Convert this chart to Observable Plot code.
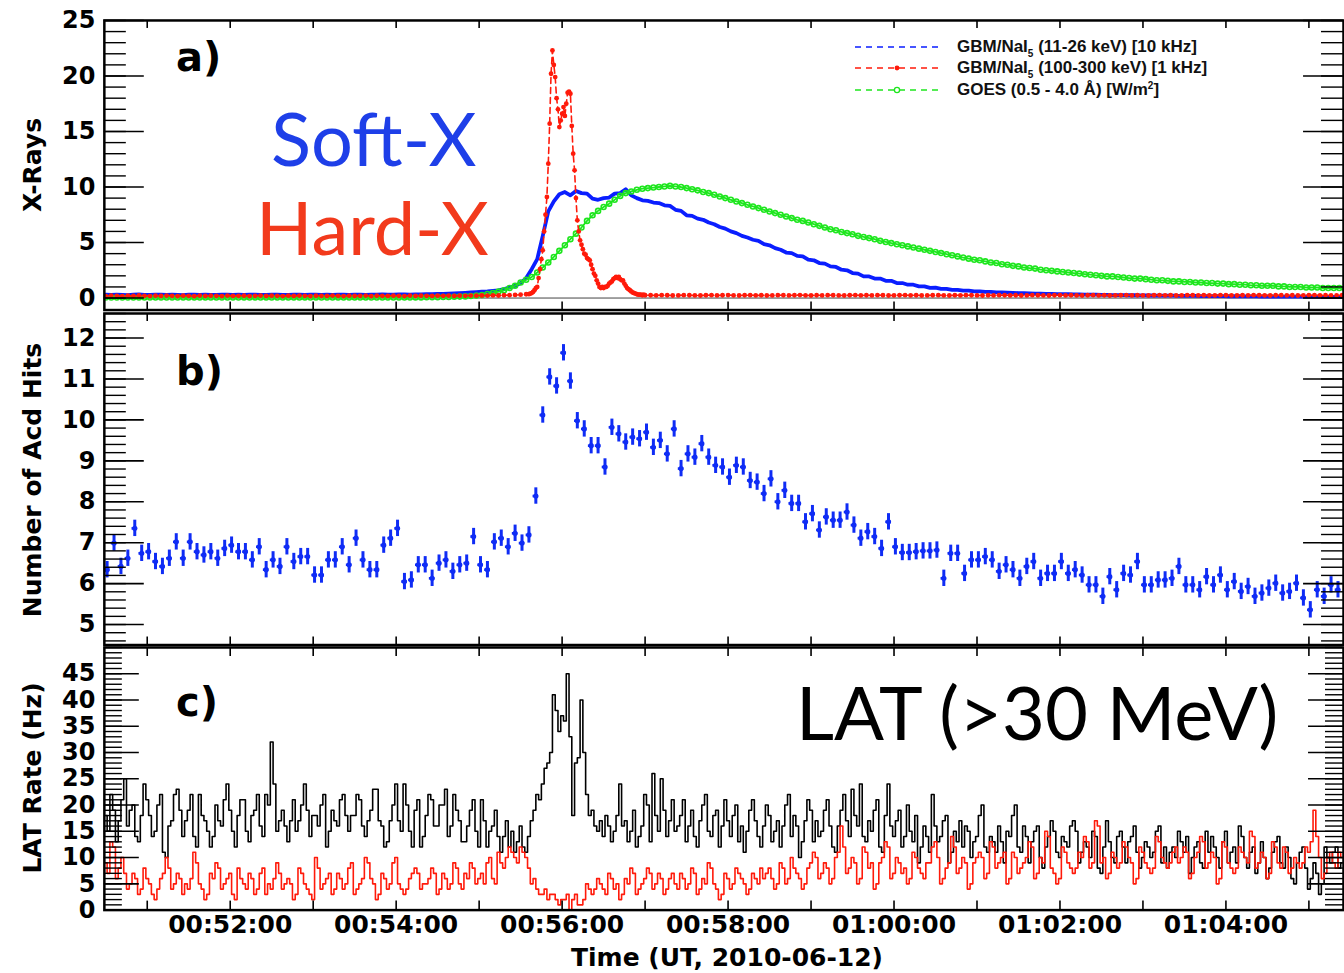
<!DOCTYPE html>
<html>
<head>
<meta charset="utf-8">
<script src="https://cdn.jsdelivr.net/npm/d3@7"></script>
<script src="https://cdn.jsdelivr.net/npm/@observablehq/plot@0.6"></script>
<style>
  html, body { margin: 0; padding: 0; background: #fff; overflow: hidden; }
  #chart { position: relative; width: 1344px; height: 973px; overflow: hidden; background: #fff; }
  .panel { position: absolute; left: 0; }
  #overlay { position: absolute; left: 0; top: 0; pointer-events: none; }
</style>
</head>
<body>
<div id="chart"></div>
<script>
// Time is counted in seconds after 00:50:00 UT, 2010-06-12.

// GBM NaI5 11-26 keV rate, one sample every 4 s starting at 30 s
const softX = [
  0.30,0.28,0.31,0.29,0.27,0.30,0.32,0.29,0.28,0.30,
  0.31,0.29,0.30,0.28,0.27,0.30,0.31,0.29,0.30,0.28,
  0.29,0.31,0.30,0.28,0.30,0.29,0.31,0.30,0.28,0.29,
  0.30,0.31,0.29,0.28,0.30,0.31,0.29,0.30,0.31,0.29,
  0.30,0.28,0.31,0.30,0.29,0.31,0.30,0.29,0.31,0.30,
  0.32,0.30,0.31,0.33,0.32,0.31,
  0.32,0.33,0.35,0.34,0.37,0.38,0.40,0.42,0.45,0.47,0.50,0.53,0.57,0.60,0.65,0.70,
  0.80,0.95,1.10,1.35,1.80,2.60,3.50,5.60,7.80,8.70,
  9.35,9.55,9.25,9.65,9.45,9.40,8.95,8.85,9.00,9.05,
  9.40,9.45,9.80,9.25,9.00,8.80,8.75,8.60,8.55,8.35,
  8.30,7.95,7.85,7.45,7.40,7.15,7.05,6.80,6.65,6.40,
  6.25,6.00,5.85,5.60,5.45,5.25,5.15,4.85,4.75,4.50,
  4.35,4.10,4.05,3.80,3.75,3.45,3.40,3.15,3.10,2.85,
  2.80,2.55,2.50,2.25,2.20,1.95,1.95,1.75,1.75,1.55,
  1.55,1.35,1.35,1.20,1.20,1.05,1.05,0.92,0.93,0.82,
  0.82,0.74,0.74,0.66,0.67,0.60,0.60,0.55,0.55,0.51,
  0.50,0.48,
  0.46,0.45,0.43,0.42,0.40,0.39,0.38,0.37,0.36,0.35,
  0.34,0.33,0.32,0.31,0.30,0.30,0.29,0.28,0.27,0.27,
  0.26,0.25,0.25,0.24,0.24,0.23,0.22,0.22,0.21,0.21,
  0.20,0.20,0.19,0.19,0.18,0.18,0.18,0.17,0.17,0.16,
  0.16,0.16,0.15,0.15,0.15,0.14,0.14,0.14,0.13,0.13,
  0.13,0.13,0.12,0.12,0.12,0.12,0.11,0.11,0.11,0.11,
  0.10
];

// GOES 0.5-4.0 Å flux, one sample every 4 s starting at 30 s
const goes = [
  0.05,0.05,0.05,0.05,0.05,0.05,0.05,0.05,0.05,0.05,
  0.05,0.05,0.05,0.05,0.05,0.05,0.05,0.05,0.05,0.05,
  0.05,0.05,0.05,0.05,0.05,0.05,0.05,0.05,0.05,0.05,
  0.05,0.05,0.05,0.05,0.05,0.05,0.05,0.05,0.05,0.05,
  0.05,0.05,0.05,0.05,0.05,0.05,0.05,0.05,0.05,0.05,
  0.05,0.05,0.05,0.05,0.05,0.05,
  0.06,0.06,0.07,0.07,0.08,0.09,0.10,0.11,0.13,0.15,0.18,0.22,0.28,0.36,0.46,0.58,
  0.70,0.90,1.10,1.40,1.65,1.90,2.30,2.75,3.20,3.70,
  4.25,4.75,5.30,5.80,6.35,6.95,7.45,7.85,8.20,8.50,
  8.85,9.20,9.45,9.60,9.75,9.85,9.90,9.95,10.00,10.05,
  10.10,10.05,10.00,9.90,9.80,9.70,9.55,9.45,9.30,9.15,
  9.00,8.85,8.70,8.55,8.40,8.25,8.10,7.95,7.80,7.65,
  7.50,7.35,7.20,7.05,6.95,6.80,6.65,6.50,6.35,6.20,
  6.10,5.95,5.85,5.75,5.60,5.50,5.40,5.30,5.15,5.05,
  4.95,4.85,4.75,4.65,4.55,4.45,4.35,4.25,4.15,4.05,
  3.95,3.85,3.75,3.65,3.55,3.45,3.40,3.30,3.20,3.15,
  3.05,3.00,2.90,2.85,2.75,2.70,2.65,2.55,2.50,2.45,
  2.40,2.35,2.30,2.25,2.20,2.15,2.10,2.05,2.00,1.95,
  1.95,1.90,1.85,1.80,1.75,1.75,1.70,1.65,1.60,1.60,
  1.55,1.50,1.50,1.45,1.45,1.40,1.40,1.35,1.35,1.30,
  1.30,1.25,1.25,1.20,1.20,1.15,1.15,1.10,1.10,1.10,
  1.05,1.05,1.00,1.00,1.00,0.95,0.95,0.95,0.90,0.90,
  0.90,0.90,0.85
];

// GBM NaI5 100-300 keV rate: every 4 s before the burst (30-334 s),
// every 1 s through it (336-420 s), every 4 s after it (424-924 s)
const hardXPre = [
  0.18,0.22,0.20,0.17,0.21,0.19,0.23,0.20,0.18,0.21,
  0.19,0.22,0.20,0.18,0.21,0.20,0.17,0.22,0.19,0.21,
  0.20,0.18,0.22,0.19,0.20,0.21,0.18,0.20,0.22,0.19,
  0.21,0.20,0.18,0.21,0.19,0.22,0.20,0.18,0.21,0.20,
  0.19,0.22,0.20,0.18,0.21,0.19,0.20,0.22,0.18,0.21,
  0.20,0.19,0.21,0.20,0.18,0.22,0.19,0.21,0.20,0.19,
  0.21,0.20,0.22,0.19,0.21,0.20,0.22,0.21,0.23,0.22,
  0.24,0.23,0.25,0.26,0.28,0.30,0.34
];
const hardXPeak = [
  0.35,0.40,0.45,0.55,0.70,0.90,1.00,1.80,2.60,3.50,
  4.30,6.00,7.50,9.10,12.1,15.7,20.2,22.3,21.0,19.9,
  18.0,17.0,15.4,16.0,16.6,17.2,16.4,17.5,18.5,18.6,
  18.4,15.5,13.0,11.5,9.00,7.00,6.00,5.20,4.80,4.40,
  4.00,3.90,3.60,3.50,3.40,3.00,2.60,2.20,2.00,1.60,
  1.30,1.00,0.90,1.00,0.90,1.00,1.00,1.10,1.30,1.40,
  1.50,1.70,1.80,1.90,1.80,1.90,1.70,1.60,1.60,1.30,
  1.10,0.90,0.80,0.70,0.60,0.50,0.45,0.40,0.35,0.30,
  0.30,0.30,0.25,0.30,0.25
];
const hardXPost = [
  0.25,0.24,0.26,0.25,0.23,0.24,0.26,0.25,0.24,0.23,
  0.25,0.26,0.24,0.25,0.27,0.24,0.23,0.25,0.26,0.24,
  0.25,0.23,0.24,0.26,0.25,0.24,0.25,0.27,0.24,0.23,
  0.25,0.24,0.26,0.25,0.24,0.23,0.25,0.26,0.24,0.25,
  0.24,0.26,0.25,0.23,0.24,0.25,0.26,0.24,0.25,0.23,
  0.24,0.25,0.26,0.24,0.23,0.25,0.24,0.26,0.25,0.24,
  0.23,0.25,0.24,0.26,0.25,0.24,0.25,0.23,0.24,0.26,
  0.25,0.24,0.23,0.25,0.26,0.24,0.25,0.24,0.23,0.25,
  0.26,0.24,0.25,0.23,0.24,0.25,0.26,0.24,0.25,0.24,
  0.23,0.25,0.26,0.24,0.25,0.23,0.24,0.26,0.25,0.24,
  0.25,0.23,0.24,0.26,0.25,0.24,0.23,0.25,0.24,0.26,
  0.25,0.24,0.23,0.25,0.26,0.24,0.25,0.23,0.24,0.25,
  0.26,0.24,0.25,0.23,0.24,0.25
];

// ACD hit counts in 5-s bins centred from 31 s, with their uncertainty
const acdHits = [
  6.34,6.99,6.42,6.62,7.35,6.74,6.78,6.54,6.42,6.62,
  7.02,6.62,7.02,6.78,6.70,6.78,6.62,6.86,6.94,6.78,
  6.78,6.58,6.90,6.34,6.58,6.42,6.90,6.54,6.66,6.66,
  6.21,6.21,6.58,6.58,6.90,6.46,7.11,6.58,6.34,6.34,
  6.94,7.11,7.35,6.05,6.09,6.46,6.46,6.13,6.50,6.58,
  6.30,6.46,6.50,7.15,6.46,6.34,7.02,7.11,6.90,7.23,
  6.99,7.19,8.14,10.12,11.05,10.83,11.64,10.95,9.98,9.78,
  9.37,9.37,8.85,9.82,9.66,9.46,9.58,9.54,9.70,9.33,
  9.50,9.17,9.78,8.81,9.17,9.09,9.42,9.09,8.89,8.85,
  8.60,8.89,8.85,8.52,8.48,8.20,8.56,8.00,8.28,7.96,
  7.96,7.51,7.71,7.31,7.63,7.55,7.55,7.75,7.43,7.11,
  7.27,7.15,6.86,7.51,6.90,6.76,6.76,6.78,6.80,6.80,
  6.82,6.13,6.74,6.74,6.25,6.58,6.58,6.66,6.58,6.30,
  6.46,6.34,6.13,6.42,6.54,6.13,6.25,6.25,6.54,6.25,
  6.34,6.21,5.97,5.97,5.69,6.17,5.85,6.25,6.21,6.54,
  5.97,5.97,6.09,6.09,6.13,6.42,5.97,5.97,5.85,6.17,
  5.97,6.21,5.85,6.05,5.81,5.93,5.69,5.77,5.89,6.01,
  5.77,5.81,6.01,5.65,5.36,5.85,5.69,5.97,5.85
];
const acdError = 0.2;

// LAT rates (>30 MeV) in 2-s bins centred from 30 s, 32 s per row
const latRate = [
  18,15,22,19,13,17,21,25,16,19,20,14,13,18,24,21,
  18,14,15,20,22,11,10,16,17,22,23,19,14,17,19,22,
  14,12,22,18,17,15,12,14,20,17,16,21,24,19,15,12,
  18,21,21,15,13,18,19,22,16,14,22,20,32,24,15,17,
  19,16,13,17,21,15,17,20,24,19,14,18,18,16,20,22,
  12,15,19,17,16,21,22,18,15,18,18,22,21,16,14,17,
  19,23,23,17,16,12,13,17,20,24,17,15,24,20,15,12,
  19,21,12,14,18,22,21,16,16,20,20,23,14,16,22,19,
  17,13,13,16,19,21,15,12,21,17,12,15,16,19,14,11,
  14,17,12,15,11,13,16,12,11,14,17,19,22,21,24,27,
  28,30,41,38,34,37,36,45,33,18,28,29,40,30,22,18,
  19,16,15,17,14,18,16,13,15,18,24,16,17,13,15,19,
  12,14,16,22,20,13,26,18,15,25,19,14,17,21,15,16,
  18,21,13,16,19,14,12,17,20,22,15,14,18,19,12,16,
  21,17,14,18,20,13,16,11,15,19,21,17,14,12,16,20,
  18,13,15,17,12,16,20,22,14,18,16,10,13,17,21,19,
  13,17,14,15,19,21,16,12,11,16,19,22,17,14,23,18,
  16,24,14,13,17,15,19,21,12,11,18,24,16,14,17,19,
  12,14,20,15,13,18,9,12,16,14,11,22,16,13,14,17,
  18,9,11,15,13,17,12,16,15,10,13,14,18,20,12,11,
  14,13,11,16,13,9,15,14,18,20,12,11,16,14,9,13,
  15,16,10,8,12,14,17,15,11,10,14,13,12,16,17,15,
  9,11,13,12,10,15,14,8,7,12,17,13,10,9,14,15,
  12,9,13,14,16,11,8,10,13,12,10,11,15,16,9,12,
  8,11,12,10,15,13,11,14,7,10,12,13,9,8,15,11,
  14,12,10,8,13,15,9,11,12,9,16,14,10,8,11,12,
  7,9,13,10,6,8,11,13,14,9,8,12,10,6,5,9,
  11,12,8,4,6,9,7,3,5,12,10,9,11,12,8,9
];
const latRateAlt = [
  9,7,13,12,6,8,10,7,4,5,7,6,3,4,8,6,
  5,3,2,4,6,7,10,8,4,5,7,6,3,5,4,6,
  11,9,5,4,2,3,7,6,9,8,4,5,6,7,3,2,
  8,6,5,4,7,6,3,4,7,8,3,5,4,6,9,7,
  4,5,6,5,2,3,8,7,5,4,3,2,10,8,4,5,
  6,7,3,4,7,6,4,5,8,9,3,4,5,6,10,9,
  6,5,2,3,7,6,4,5,9,10,5,4,3,4,6,7,
  8,7,4,5,5,6,8,7,3,4,7,6,4,5,9,8,
  5,4,7,6,9,8,5,6,7,5,9,10,6,5,11,9,
  8,10,12,11,10,9,12,11,10,8,5,6,4,3,3,4,
  2,3,3,2,1,2,2,3,0,2,3,1,1,2,5,4,
  3,4,6,5,4,3,7,6,4,5,2,3,6,5,8,7,
  3,4,5,6,8,7,4,5,7,6,3,4,6,7,5,4,
  7,6,4,5,8,7,3,4,6,5,9,8,5,4,2,3,
  7,6,4,5,8,7,6,5,3,4,7,6,5,8,6,7,
  8,6,4,5,9,8,5,6,10,8,7,6,4,5,8,9,
  11,10,6,7,9,8,5,6,10,11,16,12,7,8,10,9,
  5,6,12,11,8,9,4,5,9,10,13,12,6,7,10,9,
  7,8,5,6,11,10,8,7,6,9,9,12,13,10,5,6,
  8,9,14,12,7,8,10,9,4,5,9,10,11,10,6,7,
  13,12,8,9,10,11,5,6,11,10,7,8,9,10,13,12,
  6,7,10,9,15,14,8,7,5,6,12,11,9,8,7,8,
  11,10,14,13,8,9,17,16,9,10,6,7,11,10,8,9,
  13,12,10,9,5,6,12,11,9,8,7,8,14,13,10,9,
  8,9,11,12,9,10,12,11,6,7,10,11,14,13,8,9,
  11,10,5,6,13,12,9,8,7,8,12,11,10,9,15,14,
  8,9,11,10,6,7,13,12,9,8,12,11,7,8,10,9,
  8,9,12,11,13,19,14,10,6,7,10,11,9,8,11,10
];

// Axis ticks and labels
const timeTicks = [120, 240, 360, 480, 600, 720, 840];
const timeLabels = ["00:52:00", "00:54:00", "00:56:00", "00:58:00", "01:00:00", "01:02:00", "01:04:00"];
const minuteTicks = [60, 120, 180, 240, 300, 360, 420, 480, 540, 600, 660, 720, 780, 840, 900];
const xrayTicks = [0, 5, 10, 15, 20, 25];
const acdTicks = [5, 6, 7, 8, 9, 10, 11, 12];
const latTicks = [0, 5, 10, 15, 20, 25, 30, 35, 40, 45];
const timeTitle = "Time (UT, 2010-06-12)";
const legendItems = [
  {name: "GBM/NaI", sub: "5", rest: " (11-26 keV) [10 kHz]"},
  {name: "GBM/NaI", sub: "5", rest: " (100-300 keV) [1 kHz]"},
  {name: "GOES (0.5 - 4.0 Å) [W/m", sup: "2", rest: "]"}
];

// ---- build rows ----
const softRows = softX.map((v, i) => ({t: 30 + 4 * i, v}));
const goesRows = goes.map((v, i) => ({t: 30 + 4 * i, v}));
const hardRows = [
  ...hardXPre.map((v, i) => ({t: 30 + 4 * i, v})),
  ...hardXPeak.map((v, i) => ({t: 336 + i, v})),
  ...hardXPost.map((v, i) => ({t: 424 + 4 * i, v}))
];
const acdRows = acdHits.map((v, i) => ({t: 31 + 5 * i, v}));
const latRows = latRate.map((v, i) => ({t: 30 + 2 * i, v}));
const latAltRows = latRateAlt.map((v, i) => ({t: 30 + 2 * i, v}));

// ---- layout ----
const W = 1346, ML = 104, MR = 1;
const frameW = W - ML - MR;
const xDomain = [29, 925];
const BLUE = "#0a1eff", GREEN = "#1ee61e", RED = "#ff1a0a", ACD_BLUE = "#0f2cf5";
const baseStyle = {fontFamily: "DejaVu Sans", fontWeight: "bold", background: "none", overflow: "visible", color: "black"};

const range = (a, b, s) => d3.range(a, b + s / 2, s);

function yTickMarks(major, minor, majorLen, minorLen) {
  return [
    Plot.tickY(minor, {y: d => d, insetRight: frameW - minorLen, stroke: "black", strokeWidth: 1.4}),
    Plot.tickY(minor, {y: d => d, insetLeft: frameW - minorLen, stroke: "black", strokeWidth: 1.4}),
    Plot.tickY(major, {y: d => d, insetRight: frameW - majorLen, stroke: "black", strokeWidth: 1.6}),
    Plot.tickY(major, {y: d => d, insetLeft: frameW - majorLen, stroke: "black", strokeWidth: 1.6})
  ];
}
function xTickMarks(frameH, len) {
  return [
    Plot.tickX(minuteTicks, {x: d => d, insetBottom: frameH - len, stroke: "black", strokeWidth: 1.6}),
    Plot.tickX(minuteTicks, {x: d => d, insetTop: frameH - len, stroke: "black", strokeWidth: 1.6})
  ];
}

const chart = document.getElementById("chart");
function place(svg, top) {
  const div = document.createElement("div");
  div.className = "panel";
  div.style.top = top + "px";
  div.appendChild(svg);
  chart.appendChild(div);
}

// a) X-ray light curves
const hA = 312, mtA = 20, mbA = 2;
place(Plot.plot({
  width: W, height: hA, marginLeft: ML, marginRight: MR, marginTop: mtA, marginBottom: mbA,
  style: baseStyle,
  x: {domain: xDomain, axis: null},
  y: {domain: [-1.08, 25]},
  marks: [
    Plot.ruleY([0], {stroke: "#444", strokeWidth: 1}),
    Plot.line(softRows, {x: "t", y: "v", stroke: BLUE, strokeWidth: 3.8, clip: true}),
    Plot.line(goesRows, {x: "t", y: "v", stroke: GREEN, strokeWidth: 1.8, clip: true}),
    Plot.dot(goesRows, {x: "t", y: "v", r: 2.5, stroke: GREEN, strokeWidth: 1.6, fill: "none", clip: true}),
    Plot.line(hardRows, {x: "t", y: "v", stroke: RED, strokeWidth: 1.6, strokeDasharray: "6,4", clip: true}),
    Plot.dot(hardRows, {x: "t", y: "v", r: 2.4, fill: RED, clip: true}),
    ...yTickMarks(xrayTicks, range(0, 25, 1), 40, 22),
    ...xTickMarks(hA - mtA - mbA, 8),
    Plot.axisY(xrayTicks, {tickSize: 0, tickPadding: 9, fontSize: 24, label: null}),
    Plot.frame({stroke: "black", strokeWidth: 2.5})
  ]
}), 0);

// b) ACD hits
const hB = 336, mtB = 2, mbB = 2;
place(Plot.plot({
  width: W, height: hB, marginLeft: ML, marginRight: MR, marginTop: mtB, marginBottom: mbB,
  style: baseStyle,
  x: {domain: xDomain, axis: null},
  y: {domain: [4.5, 12.6]},
  marks: [
    Plot.ruleX(acdRows, {x: "t", y1: d => d.v - acdError, y2: d => d.v + acdError, stroke: ACD_BLUE, strokeWidth: 3}),
    Plot.ruleY(acdRows, {y: "v", x1: d => d.t - 2, x2: d => d.t + 2, stroke: ACD_BLUE, strokeWidth: 2.6}),
    Plot.dot(acdRows, {x: "t", y: "v", r: 2.6, fill: ACD_BLUE}),
    ...yTickMarks(acdTicks, range(4.6, 12.6, 0.2), 40, 22),
    ...xTickMarks(hB - mtB - mbB, 8),
    Plot.axisY(acdTicks, {tickSize: 0, tickPadding: 9, fontSize: 24, label: null}),
    Plot.frame({stroke: "black", strokeWidth: 2.5})
  ]
}), 311);

// c) LAT rates
const hC = 328, mtC = 2, mbC = 63;
place(Plot.plot({
  width: W, height: hC, marginLeft: ML, marginRight: MR, marginTop: mtC, marginBottom: mbC,
  style: baseStyle,
  x: {domain: xDomain},
  y: {domain: [0, 50]},
  marks: [
    Plot.line(latRows, {x: "t", y: "v", curve: "step", stroke: "black", strokeWidth: 1.6, clip: true}),
    Plot.line(latAltRows, {x: "t", y: "v", curve: "step", stroke: RED, strokeWidth: 1.6, clip: true}),
    ...yTickMarks(latTicks, range(0, 50, 1), 35, 18),
    ...xTickMarks(hC - mtC - mbC, 9),
    Plot.axisY(latTicks, {tickSize: 0, tickPadding: 9, fontSize: 24, label: null}),
    Plot.axisX(timeTicks, {tickSize: 0, tickPadding: 5, fontSize: 25, label: null,
      tickFormat: d => timeLabels[timeTicks.indexOf(d)]}),
    Plot.frame({stroke: "black", strokeWidth: 2.5})
  ]
}), 645);

// ---- titles, panel letters, annotations and legend ----
const ov = d3.select("#chart").append("svg")
  .attr("id", "overlay").attr("width", 1344).attr("height", 973);

const boldFont = "DejaVu Sans";
[["X-Rays", 165], ["Number of Acd Hits", 480], ["LAT Rate (Hz)", 778]].forEach(([t, y]) => {
  ov.append("text").attr("transform", `translate(32,${y}) rotate(-90)`)
    .attr("text-anchor", "middle").attr("dominant-baseline", "central")
    .style("font", `bold 25px '${boldFont}'`).text(t);
});
[["a)", 71], ["b)", 385], ["c)", 716]].forEach(([t, y]) => {
  ov.append("text").attr("x", 176).attr("y", y)
    .style("font", `bold 40px '${boldFont}'`).text(t);
});
ov.append("text").attr("x", 727).attr("y", 966).attr("text-anchor", "middle")
  .style("font", `bold 25px '${boldFont}'`).text(timeTitle);

const bigFont = "Lato";
ov.append("text").attr("x", 271).attr("y", 166).attr("fill", "#1e3fe8")
  .style("font", `74px '${bigFont}'`).text("Soft-X");
ov.append("text").attr("x", 256).attr("y", 255).attr("fill", "#f23a1c")
  .style("font", `74px '${bigFont}'`).text("Hard-X");
ov.append("text").attr("x", 796).attr("y", 740).attr("fill", "#000")
  .style("font", `74px '${bigFont}'`).text("LAT (>30 MeV)");

// legend
const legendColors = [BLUE, RED, GREEN];
const legendY = [47, 68, 90];
legendItems.forEach((item, i) => {
  const y = legendY[i];
  ov.append("line").attr("x1", 855).attr("x2", 940).attr("y1", y).attr("y2", y)
    .attr("stroke", legendColors[i]).attr("stroke-width", 1.5).attr("stroke-dasharray", "6,5");
  if (i === 1) ov.append("circle").attr("cx", 897).attr("cy", y).attr("r", 2.4).attr("fill", RED);
  if (i === 2) ov.append("circle").attr("cx", 897).attr("cy", y).attr("r", 2.6)
    .attr("fill", "white").attr("stroke", GREEN).attr("stroke-width", 1.3);
  const t = ov.append("text").attr("x", 957).attr("y", y + 5)
    .style("font", "bold 17px 'Liberation Sans'").attr("fill", "#111");
  t.append("tspan").text(item.name);
  if (item.sub) {
    t.append("tspan").attr("dy", 5).style("font-size", "10px").text(item.sub);
    t.append("tspan").attr("dy", -5).text(item.rest);
  } else {
    t.append("tspan").attr("dy", -6).style("font-size", "10px").text(item.sup);
    t.append("tspan").attr("dy", 6).text(item.rest);
  }
});
</script>
</body>
</html>
